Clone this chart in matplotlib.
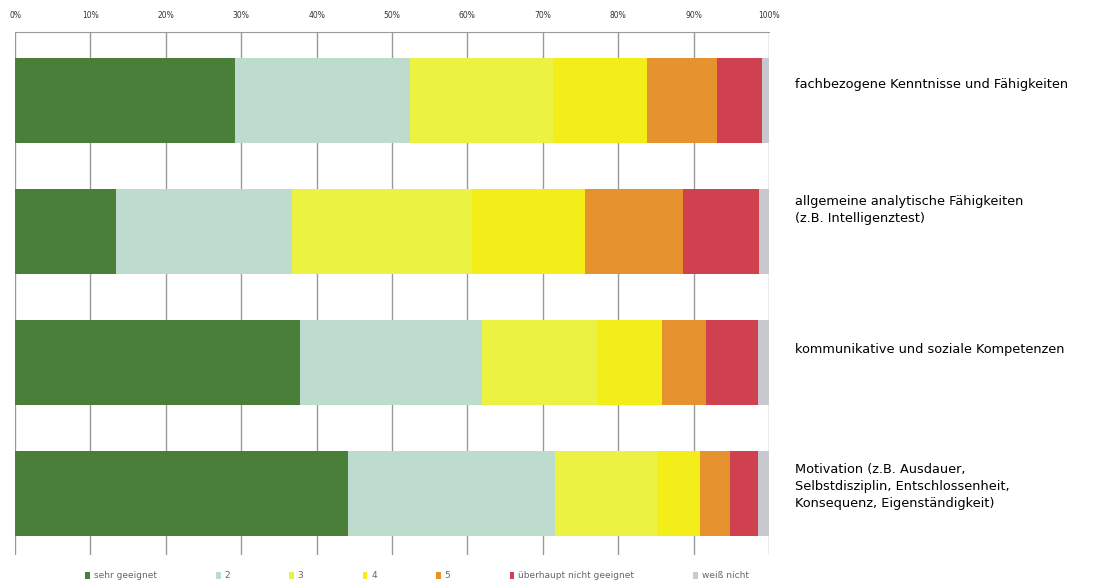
import numpy as np
import matplotlib
matplotlib.use("Agg")
import matplotlib.pyplot as plt

plt.rcParams['font.family'] = ['DejaVu Sans']

# items (top to bottom)
items = ["fachbezogene Kenntnisse und Fähigkeiten",
         "allgemeine analytische Fähigkeiten\n(z.B. Intelligenztest)",
         "kommunikative und soziale Kompetenzen",
         "Motivation (z.B. Ausdauer,\nSelbstdisziplin, Entschlossenheit,\nKonsequenz, Eigenständigkeit)"]

cats = ["sehr geeignet", "2", "3", "4", "5", "überhaupt nicht geeignet", "weiß nicht"]
colors = ["#4a7f3a", "#bddccd", "#ecf242", "#f3ee1a", "#e6922e", "#d0414f", "#c8c8ce"]

# percent shares per item, one list per answer category
sehr_geeignet = [29.2, 13.4, 37.8, 44.2]
note2 = [23.2, 23.3, 24.1, 27.4]
note3 = [19.0, 23.9, 15.3, 13.5]
note4 = [12.4, 15.0, 8.6, 5.7]
note5 = [9.3, 13.0, 5.8, 4.0]
gar_nicht = [6.0, 10.1, 6.9, 3.7]
weiss_nicht = [0.9, 1.3, 1.5, 1.5]

series = [sehr_geeignet, note2, note3, note4, note5, gar_nicht, weiss_nicht]
ticklabels = ["0%", "10%", "20%", "30%", "40%", "50%", "60%", "70%", "80%", "90%", "100%"]

fig = plt.figure(figsize=(11.1, 5.84), dpi=100)
ax = fig.add_axes([15/1110, 1-555/584, (769-15)/1110, (555-32)/584])

y = np.arange(len(items))
left = np.zeros(len(items))
for vals, c, lab in zip(series, colors, cats):
    ax.barh(y, vals, left=left, height=0.65, color=c, label=lab, zorder=3)
    left += np.array(vals)

ax.set_xlim(0, 100)
ax.set_ylim(3.47, -0.52)
ax.set_xticks(np.arange(0, 101, 10))
ax.set_xticklabels(ticklabels, fontsize=5.5, color="#333333")
ax.xaxis.tick_top()
ax.tick_params(axis='x', length=0, pad=9)
ax.set_yticks([])
ax.grid(axis='x', color="#9a9a9a", lw=1, zorder=0)
for s in ["left", "right", "bottom"]:
    ax.spines[s].set_visible(False)
ax.spines["top"].set_color("#9a9a9a")

offsets = [-0.12, -0.16, -0.1, -0.05]
for i, (txt, off) in enumerate(zip(items, offsets)):
    ax.text(1.034, i + off, txt, transform=ax.get_yaxis_transform(),
            ha='left', va='center', fontsize=9.3, color="black", linespacing=1.4)

fig.legend(loc='center', bbox_to_anchor=(417/1110, 1-576/584), ncol=7,
           frameon=False, fontsize=6.5, handlelength=0.5, handleheight=0.9,
           handletextpad=0.4, columnspacing=6.6, labelcolor="#666666")

fig.savefig("out.png", dpi=100)
